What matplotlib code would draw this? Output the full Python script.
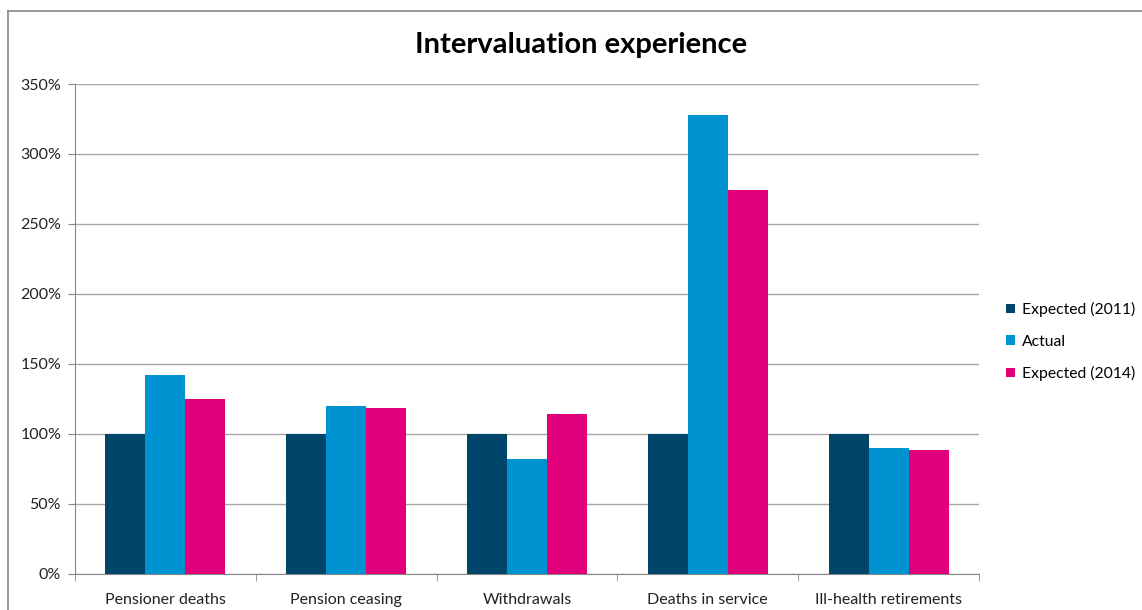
import numpy as np
import matplotlib.pyplot as plt
from matplotlib.lines import Line2D

# datos
categorias = ['Pensioner deaths', 'Pension ceasing', 'Withdrawals',
              'Deaths in service', 'Ill-health retirements']
expected_2011 = [100, 100, 100, 100, 100]
actual = [142, 119.5, 82, 327.5, 90]
expected_2014 = [124.5, 118.5, 114, 274.5, 88]
series = ['Expected (2011)', 'Actual', 'Expected (2014)']
colores = ['#00466A', '#0093D1', '#E2007A']
yticks = [0, 50, 100, 150, 200, 250, 300, 350]

plt.rcParams['font.family'] = ['Lato', 'DejaVu Sans']

fig = plt.figure(figsize=(11.42, 6.10), dpi=100)
ax = fig.add_axes([75/1142, 36.5/610, 904/1142, 489.5/610])

x = np.arange(len(categorias))
w = 0.221
for i, (vals, col, nom) in enumerate(zip([expected_2011, actual, expected_2014], colores, series)):
    ax.bar(x + (i - 1) * w, vals, width=w, color=col, label=nom, zorder=3)

ax.set_xlim(-0.5, len(categorias) - 0.5)
ax.set_ylim(0, 350)
ax.set_yticks(yticks)
ax.set_yticklabels([f'{v}%' for v in yticks], fontsize=11.5, color='#222222')
ax.set_xticks(x)
ax.set_xticklabels(categorias, fontsize=11.5, color='#222222')
ax.tick_params(axis='x', length=0, pad=14)
ax.set_xticks(np.arange(-0.5, len(categorias)), minor=True)
ax.tick_params(axis='x', which='minor', length=5, color='#868686')
ax.tick_params(axis='y', length=5, color='#868686', pad=5)
ax.grid(axis='y', color='#A6A6A6', linewidth=1, zorder=0)
for s in ['top', 'right']:
    ax.spines[s].set_visible(False)
for s in ['left', 'bottom']:
    ax.spines[s].set_color('#868686')

fig.text(581/1142, 1 - 45/610, 'Intervaluation experience', ha='center', va='center',
         fontsize=21, fontweight='bold')

fig.legend(loc='center left', bbox_to_anchor=(1006/1142, 1 - 341.5/610), frameon=False,
           fontsize=11.3, handlelength=0.55, handleheight=0.55, handletextpad=0.45,
           labelspacing=1.1, borderaxespad=0, borderpad=0)

# borde del grafico
fig.add_artist(Line2D([8/1142, 1], [1 - 11/610, 1 - 11/610], color='#868686', lw=1.2))
fig.add_artist(Line2D([8/1142, 8/1142], [0, 1 - 11/610], color='#868686', lw=1.2))

fig.savefig('out.png', dpi=100)
